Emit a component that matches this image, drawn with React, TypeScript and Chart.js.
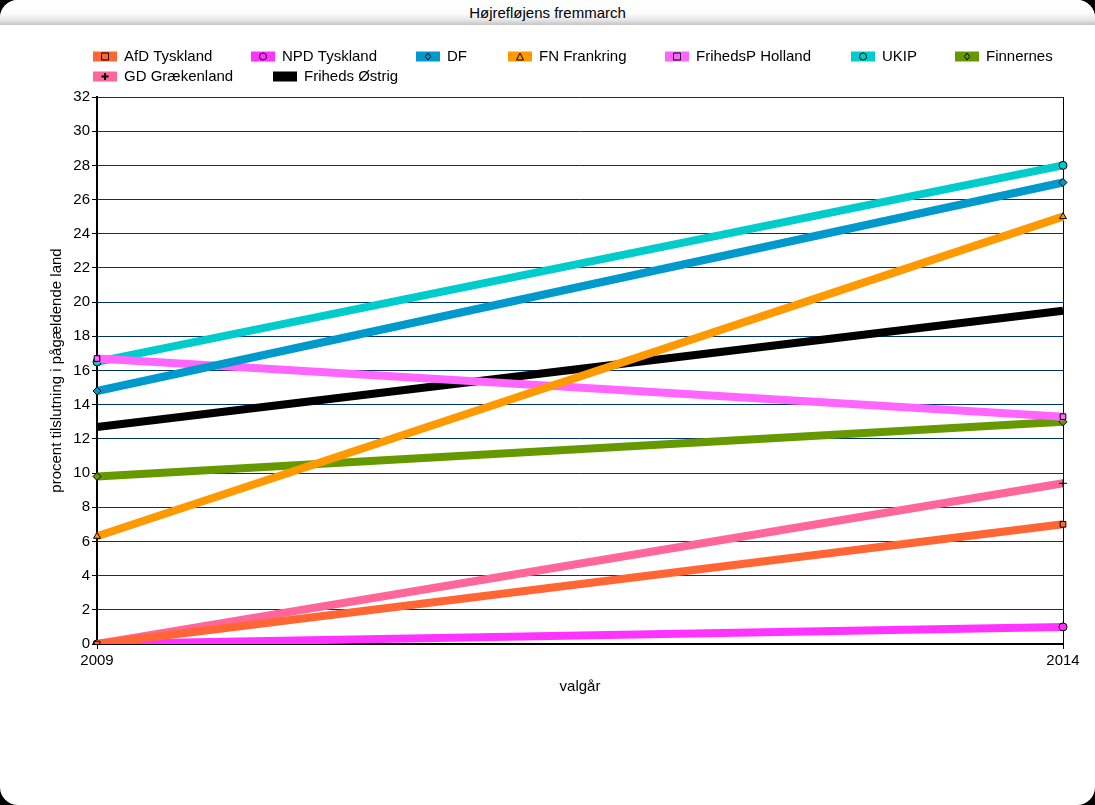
import React, { useEffect, useRef } from 'react';
import { Chart, registerables } from 'chart.js';

Chart.register(...registerables);

// ---------- data ----------
const years = ['2009', '2014'];
const seriesNames = [
  'AfD Tyskland',
  'NPD Tyskland',
  'DF',
  'FN Frankring',
  'FrihedsP Holland',
  'UKIP',
  'Finnernes',
  'GD Grækenland',
  'Friheds Østrig',
];
const afdTyskland = [0, 7.0];
const npdTyskland = [0, 1.0];
const df = [14.8, 27.0];
const fnFrankring = [6.3, 25.0];
const frihedsPHolland = [16.7, 13.3];
const ukip = [16.5, 28.0];
const finnernes = [9.8, 13.0];
const gdGraekenland = [0, 9.4];
const frihedsOestrig = [12.7, 19.5];
const seriesValues = [
  afdTyskland,
  npdTyskland,
  df,
  fnFrankring,
  frihedsPHolland,
  ukip,
  finnernes,
  gdGraekenland,
  frihedsOestrig,
];
const seriesColors = [
  '#ff6633',
  '#ff33ff',
  '#0099cc',
  '#ff9900',
  '#ff66ff',
  '#00cccc',
  '#669900',
  '#ff6699',
  '#000000',
];
const seriesMarkers = ['rect', 'circle', 'rectRot', 'triangle', 'rect', 'circle', 'rectRot', 'cross', 'none'];

const chartTitle = 'Højrefløjens fremmarch';
const xTitle = 'valgår';
const yTitle = 'procent tilslutning i pågældende land';
const yMin = 0;
const yMax = 32;
const yStep = 2;

const FONT = '"Liberation Sans", Arial, sans-serif';

// legend layout (positions of the legend entries)
const LEGEND_LAYOUT = [
  { x: 93, y: 56 },
  { x: 251, y: 56 },
  { x: 416, y: 56 },
  { x: 508, y: 56 },
  { x: 665, y: 56 },
  { x: 851, y: 56 },
  { x: 955, y: 56 },
  { x: 93, y: 76 },
  { x: 273, y: 76 },
];

function drawMarker(ctx: CanvasRenderingContext2D, style: string, x: number, y: number, r: number, fill: string) {
  ctx.save();
  ctx.strokeStyle = '#000';
  ctx.fillStyle = fill;
  ctx.lineWidth = 1;
  ctx.beginPath();
  if (style === 'rect') {
    ctx.rect(x - r, y - r, 2 * r, 2 * r);
    ctx.fill();
    ctx.stroke();
  } else if (style === 'circle') {
    ctx.arc(x, y, r, 0, Math.PI * 2);
    ctx.fill();
    ctx.stroke();
  } else if (style === 'rectRot') {
    ctx.moveTo(x, y - r);
    ctx.lineTo(x + r * 0.75, y);
    ctx.lineTo(x, y + r);
    ctx.lineTo(x - r * 0.75, y);
    ctx.closePath();
    ctx.fill();
    ctx.stroke();
  } else if (style === 'triangle') {
    ctx.moveTo(x, y - r);
    ctx.lineTo(x + r, y + r);
    ctx.lineTo(x - r, y + r);
    ctx.closePath();
    ctx.fill();
    ctx.stroke();
  } else if (style === 'cross') {
    ctx.lineWidth = 2;
    ctx.moveTo(x - r, y);
    ctx.lineTo(x + r, y);
    ctx.moveTo(x, y - r);
    ctx.lineTo(x, y + r);
    ctx.stroke();
  }
  ctx.restore();
}

const legendPlugin = {
  id: 'customLegend',
  afterDraw(chart: any) {
    const ctx: CanvasRenderingContext2D = chart.ctx;
    ctx.save();
    ctx.font = '15px ' + FONT;
    ctx.textBaseline = 'middle';
    ctx.textAlign = 'left';
    chart.data.datasets.forEach((ds: any, i: number) => {
      const pos = LEGEND_LAYOUT[i];
      if (!pos) return;
      ctx.fillStyle = ds.borderColor;
      ctx.fillRect(pos.x, pos.y - 4.5, 24, 10);
      drawMarker(ctx, seriesMarkers[i], pos.x + 12, pos.y + 0.5, 3.5, ds.borderColor);
      ctx.fillStyle = '#000';
      ctx.fillText(ds.label, pos.x + 31, pos.y + 1);
    });
    ctx.restore();
  },
};

export default function App() {
  const canvasRef = useRef<HTMLCanvasElement | null>(null);

  useEffect(() => {
    document.body.style.margin = '0';
    const canvas = canvasRef.current;
    if (!canvas) return;
    const datasets = seriesNames.map((name, i) => ({
      label: name,
      data: seriesValues[i],
      borderColor: seriesColors[i],
      backgroundColor: seriesColors[i],
      borderWidth: 8,
      pointStyle: seriesMarkers[i] === 'none' ? 'circle' : seriesMarkers[i],
      pointRadius: seriesMarkers[i] === 'none' ? 0 : 4,
      pointBackgroundColor: seriesColors[i],
      pointBorderColor: '#000',
      pointBorderWidth: 1,
      fill: false,
      tension: 0,
    }));
    const chart = new Chart(canvas, {
      type: 'line',
      data: { labels: years, datasets },
      options: {
        responsive: false,
        animation: false,
        maintainAspectRatio: false,
        layout: { padding: { top: 97, right: 32, bottom: 101, left: 0 } },
        plugins: {
          legend: { display: false },
          title: { display: false },
          tooltip: { enabled: false },
        },
        scales: {
          x: {
            type: 'category',
            offset: false,
            afterFit: (s: any) => {
              s.height = 60;
            },
            grid: {
              color: '#000',
              lineWidth: 1,
              drawTicks: true,
              tickLength: 5,
              tickColor: '#000',
            },
            border: { display: true, color: '#000', width: 2 },
            ticks: {
              color: '#000',
              font: { family: FONT, size: 15 },
              padding: 3,
              maxRotation: 0,
            },
            title: {
              display: true,
              text: xTitle,
              color: '#000',
              font: { family: FONT, size: 15 },
              padding: { top: 0, bottom: 8 },
            },
          },
          y: {
            min: yMin,
            max: yMax,
            afterFit: (s: any) => {
              s.width = 97;
            },
            grid: {
              color: '#003366',
              lineWidth: 1,
              drawTicks: true,
              tickLength: 5,
              tickColor: '#000',
            },
            border: { display: true, color: '#000', width: 2 },
            ticks: {
              stepSize: yStep,
              color: '#000',
              font: { family: FONT, size: 15 },
              padding: 2,
            },
            title: {
              display: true,
              text: yTitle,
              color: '#000',
              font: { family: FONT, size: 15 },
              padding: { top: 48, bottom: 0 },
            },
          },
        },
      },
      plugins: [legendPlugin],
    } as any);
    return () => {
      chart.destroy();
    };
  }, []);

  return (
    <div
      style={{
        position: 'fixed',
        left: 0,
        top: 0,
        width: 1095,
        height: 805,
        background: '#000',
        overflow: 'hidden',
      }}
    >
      <div
        style={{
          position: 'absolute',
          left: 0,
          top: 0,
          width: 1095,
          height: 805,
          background: '#fff',
          borderRadius: 18,
        }}
      />
      <div
        style={{
          position: 'absolute',
          left: 0,
          top: 0,
          width: 1095,
          height: 25,
          borderRadius: '18px 18px 0 0',
          background: 'linear-gradient(to bottom, #ffffff 0%, #fbfbfb 55%, #e6e6e6 80%, #c4c4c4 100%)',
          fontFamily: FONT,
          fontSize: 15,
          lineHeight: '25px',
          textAlign: 'center',
          color: '#000',
        }}
      >
        {chartTitle}
      </div>
      <canvas
        ref={canvasRef}
        width={1095}
        height={805}
        style={{ position: 'absolute', left: 0, top: 0, width: 1095, height: 805 }}
      />
    </div>
  );
}
